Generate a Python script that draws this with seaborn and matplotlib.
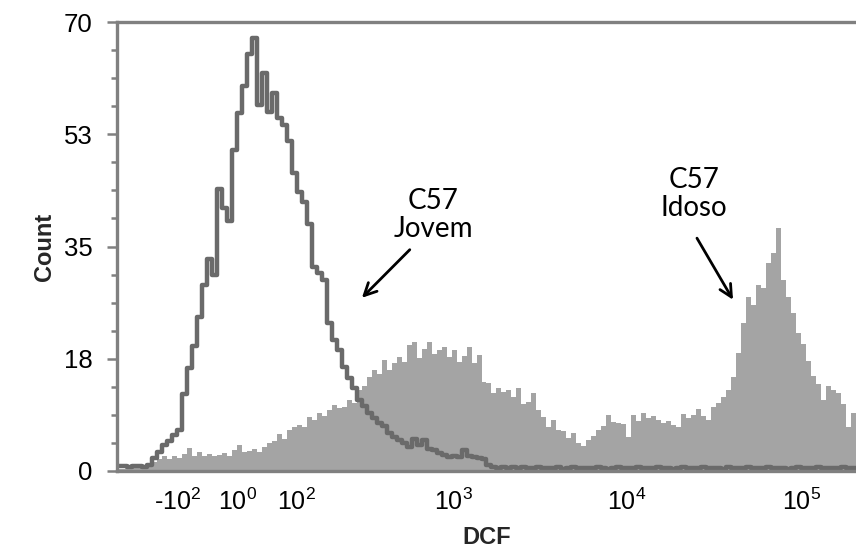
import numpy as np
import pandas as pd
import matplotlib
matplotlib.use("Agg")
import matplotlib.pyplot as plt
import seaborn as sns

# Cell counts per channel (channels evenly spaced on the biexponential DCF axis)
jovem_counts = [
    0.8, 0.8, 0.7, 0.8, 0.8, 0.7, 0.9, 2.0, 3.0, 4.0,
    4.6, 5.6, 6.4, 12.0, 16.0, 19.5, 24.0, 29.0, 33.0, 30.5,
    44.0, 41.0, 39.0, 50.0, 55.8, 60.0, 65.0, 67.5, 57.0, 62.0,
    56.0, 59.0, 55.0, 54.0, 51.5, 46.5, 43.5, 42.0, 38.5, 31.8,
    30.8, 29.8, 23.0, 20.4, 18.9, 16.2, 14.5, 13.0, 11.1, 10.2,
    9.0, 8.3, 7.5, 7.0, 6.0, 5.3, 4.8, 4.4, 3.8, 5.0,
    4.0, 4.8, 3.5, 3.3, 2.8, 2.5, 2.2, 2.4, 2.2, 3.2,
    2.3, 2.2, 2.0, 1.9, 0.9, 0.6, 0.5, 0.6, 0.4, 0.6,
    0.5, 0.7, 0.4, 0.5, 0.6, 0.4, 0.5, 0.5, 0.6, 0.3,
    0.5, 0.6, 0.4, 0.5, 0.5, 0.4, 0.6, 0.5, 0.3, 0.5,
    0.6, 0.5, 0.4, 0.5, 0.6, 0.4, 0.5, 0.5, 0.6, 0.4,
    0.5, 0.3, 0.5, 0.6, 0.5, 0.4, 0.5, 0.6, 0.4, 0.5,
    0.5, 0.3, 0.6, 0.5, 0.4, 0.5, 0.6, 0.5, 0.4, 0.5,
    0.6, 0.4, 0.5, 0.5, 0.3, 0.5, 0.6, 0.4, 0.5, 0.5,
    0.6, 0.4, 0.5, 0.5, 0.4, 0.6, 0.5, 0.5,
]
idoso_counts = [
    0.3, 0.3, 0.3, 0.4, 0.4, 0.5, 0.8, 1.4, 1.8, 2.3,
    1.9, 2.4, 2.0, 2.6, 3.6, 2.3, 2.9, 2.4, 2.6, 2.3,
    2.5, 2.8, 2.4, 3.2, 4.0, 2.9, 3.1, 3.5, 3.0, 3.8,
    4.3, 4.6, 5.8, 5.0, 6.4, 6.9, 7.2, 6.8, 8.4, 7.9,
    9.0, 8.6, 9.5, 10.3, 9.8, 10.0, 11.0, 10.6, 12.6, 13.2,
    14.7, 15.7, 15.2, 17.3, 15.8, 16.8, 17.8, 17.0, 19.6, 20.1,
    17.6, 19.0, 20.1, 18.2, 18.8, 19.4, 17.8, 18.9, 17.0, 18.0,
    19.4, 16.8, 18.1, 13.9, 13.7, 12.2, 12.9, 12.3, 12.6, 11.5,
    12.9, 10.4, 10.8, 12.2, 9.5, 8.4, 6.9, 8.0, 6.4, 6.2,
    5.1, 5.9, 4.4, 3.9, 4.8, 5.4, 6.4, 7.0, 8.7, 7.6,
    7.5, 7.4, 5.3, 8.8, 7.8, 9.0, 8.2, 8.5, 7.9, 7.5,
    7.8, 7.1, 6.9, 8.9, 8.2, 8.7, 9.6, 8.5, 8.0, 10.0,
    10.6, 11.5, 12.6, 14.6, 18.4, 23.0, 27.1, 25.9, 29.0, 28.5,
    32.5, 34.0, 37.9, 29.8, 27.1, 24.6, 21.5, 19.8, 17.2, 14.8,
    13.5, 11.1, 13.3, 12.6, 12.2, 10.4, 6.9, 9.0,
]

x_tick_values = [-100, 1, 100, 1000, 10000, 100000]
x_tick_labels = ["-$\\mathregular{10^{2}}$", "$\\mathregular{10^{0}}$",
                 "$\\mathregular{10^{2}}$", "$\\mathregular{10^{3}}$",
                 "$\\mathregular{10^{4}}$", "$\\mathregular{10^{5}}$"]
y_tick_values = [0, 17.5, 35, 52.5, 70]
y_tick_labels = ["0", "18", "35", "53", "70"]

DCF_MIN, DCF_MAX = -268, 206700
LIN_WIDTH = 115

sns.set_style("white")
plt.rcParams["font.family"] = ["Liberation Sans", "DejaVu Sans"]

fig = plt.figure(figsize=(8.56, 5.49), dpi=100)
ax = fig.add_axes([117 / 856, (549 - 471) / 549, (856 - 117) / 856, (471 - 22) / 549])
ax.set_xscale("asinh", linear_width=LIN_WIDTH)

# channel edges, evenly spaced in display space
t = np.linspace(np.arcsinh(DCF_MIN / LIN_WIDTH), np.arcsinh(DCF_MAX / LIN_WIDTH),
                len(idoso_counts) + 1)
edges = LIN_WIDTH * np.sinh(t)

# step outlines: each channel's count held across its width
steps = pd.DataFrame({
    "DCF": edges,
    "Idoso": np.append(idoso_counts, idoso_counts[-1]),
    "Jovem": np.append(jovem_counts, jovem_counts[-1]),
})

ax.fill_between(steps["DCF"], steps["Idoso"], step="post", color="#a4a4a4",
                linewidth=0)
sns.lineplot(data=steps, x="DCF", y="Jovem", drawstyle="steps-post",
             estimator=None, color="#6a6a6a", linewidth=3.2, ax=ax)

ax.set_xlim(DCF_MIN, DCF_MAX)
ax.set_ylim(0, 70)

ax.set_xticks(x_tick_values)
ax.set_xticklabels(x_tick_labels)
ax.xaxis.set_minor_locator(matplotlib.ticker.NullLocator())
ax.set_yticks(y_tick_values)
ax.set_yticklabels(y_tick_labels)
ax.set_yticks(np.arange(0, 70.01, 4.375), minor=True)

spine_color = "#808080"
for side in ["left", "top", "bottom"]:
    ax.spines[side].set_color(spine_color)
    ax.spines[side].set_linewidth(2.4)
ax.spines["right"].set_visible(False)

ax.tick_params(axis="y", which="major", direction="out", length=7.5, width=1.8,
               color=spine_color, labelsize=18.5, pad=10, labelcolor="black", left=True)
ax.tick_params(axis="y", which="minor", direction="out", length=4.5, width=1.8,
               color=spine_color, left=True)
ax.tick_params(axis="x", which="major", length=0, labelsize=18, pad=13,
               labelcolor="black")

ax.set_xlabel("DCF", fontsize=17, fontweight="bold")
ax.set_ylabel("Count", fontsize=17, fontweight="bold")
ax.xaxis.set_label_coords(0.5, -0.122)
ax.yaxis.set_label_coords(-0.083, 0.5)

# population labels with arrows
label_font = dict(fontsize=20, family=["Lato", "DejaVu Sans"], ha="center",
                  va="center", linespacing=1.1, color="black")
ax.text(765, 39.9, "C57\nJovem", **label_font)
ax.text(24270, 43.2, "C57\nIdoso", **label_font)
arrow = dict(arrowstyle="->", lw=2.0, color="black", mutation_scale=22,
             shrinkA=0, shrinkB=0)
ax.annotate("", xy=(290, 27.0), xytext=(561, 34.5), arrowprops=arrow)
ax.annotate("", xy=(40660, 26.7), xytext=(25250, 36.3), arrowprops=arrow)

fig.savefig("out.png", dpi=100)
